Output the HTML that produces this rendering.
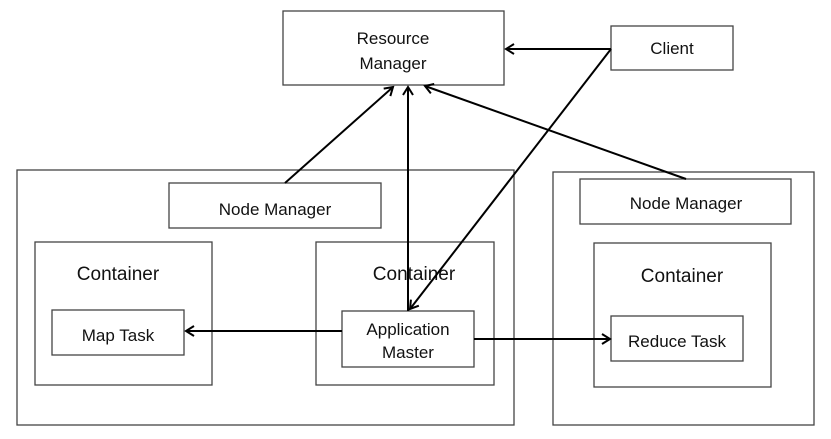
<!DOCTYPE html>
<html><head><style>
html,body{margin:0;padding:0;background:#fff;}
svg{display:block;}
text{font-family:"Liberation Sans",sans-serif;font-size:17px;fill:#111;text-anchor:middle;}
text.c{font-size:19px;}
rect{fill:#fff;stroke:#444;stroke-width:1.3;}
</style></head><body>
<svg width="831" height="439" viewBox="0 0 831 439">
<defs>
<marker id="a" markerWidth="12" markerHeight="12" refX="10" refY="6" orient="auto" markerUnits="userSpaceOnUse">
<path d="M2,1 L10,6 L2,11" fill="none" stroke="#000" stroke-width="2"/>
</marker>
</defs>
<rect x="283" y="11" width="221" height="74"/>
<text x="393" y="44">Resource</text><text x="393" y="69">Manager</text>
<rect x="611" y="26" width="122" height="44"/>
<text x="672" y="54">Client</text>
<rect x="17" y="170" width="497" height="255"/>
<rect x="169" y="183" width="212" height="45"/>
<text x="275" y="215">Node Manager</text>
<rect x="35" y="242" width="177" height="143"/>
<text class="c" x="118" y="280">Container</text>
<rect x="52" y="310" width="132" height="45"/>
<text x="118" y="341">Map Task</text>
<rect x="316" y="242" width="178" height="143"/>
<text class="c" x="414" y="280">Container</text>
<rect x="342" y="311" width="132" height="56"/>
<text x="408" y="335">Application</text><text x="408" y="358">Master</text>
<rect x="553" y="172" width="261" height="253"/>
<rect x="580" y="179" width="211" height="45"/>
<text x="686" y="209">Node Manager</text>
<rect x="594" y="243" width="177" height="144"/>
<text class="c" x="682" y="282">Container</text>
<rect x="611" y="316" width="132" height="45"/>
<text x="677" y="347">Reduce Task</text>
<g stroke="#000" stroke-width="2" fill="none">
<line x1="611" y1="49" x2="506" y2="49" marker-end="url(#a)"/>
<line x1="611" y1="49" x2="410" y2="309" marker-end="url(#a)"/>
<line x1="408" y1="311" x2="408" y2="87" marker-end="url(#a)"/>
<line x1="285" y1="183" x2="393" y2="87" marker-end="url(#a)"/>
<line x1="686" y1="179" x2="425" y2="86" marker-end="url(#a)"/>
<line x1="342" y1="331" x2="186" y2="331" marker-end="url(#a)"/>
<line x1="474" y1="339" x2="610" y2="339" marker-end="url(#a)"/>
</g>
</svg>
</body></html>
